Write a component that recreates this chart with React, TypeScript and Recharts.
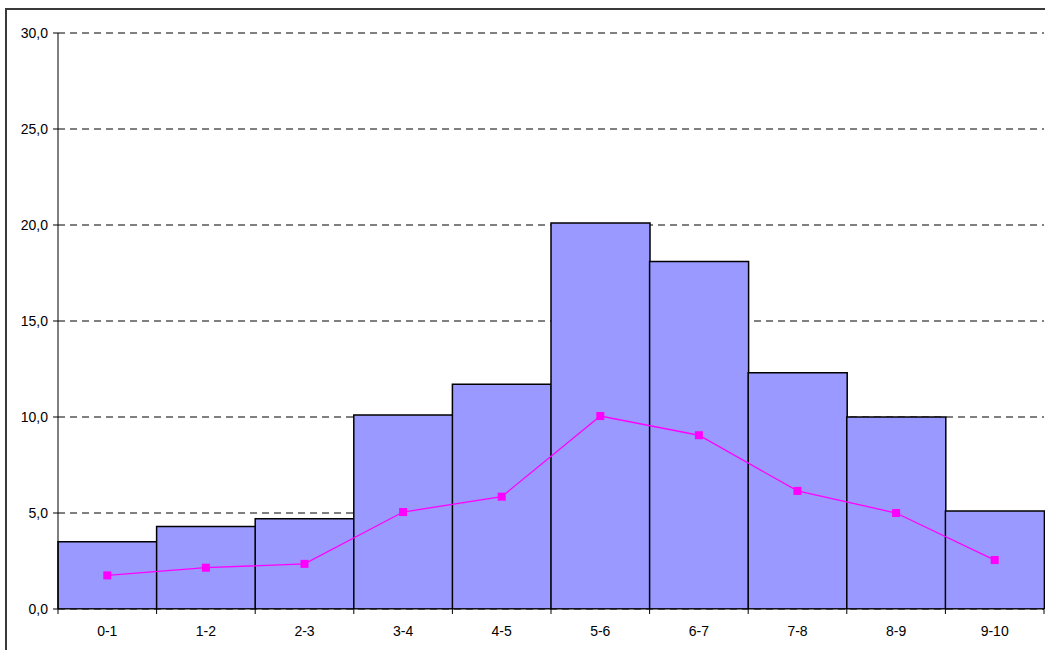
import React from "react";
import { ComposedChart, Bar, Line, XAxis, YAxis, CartesianGrid } from "recharts";

const categories = ["0-1", "1-2", "2-3", "3-4", "4-5", "5-6", "6-7", "7-8", "8-9", "9-10"];
const barValues = [3.5, 4.3, 4.7, 10.1, 11.7, 20.1, 18.1, 12.3, 10.0, 5.1];
const lineValues = [1.75, 2.15, 2.35, 5.05, 5.85, 10.05, 9.05, 6.15, 5.0, 2.55];
const yTicks = [0, 5, 10, 15, 20, 25, 30];

const data = categories.map((c, i) => ({ cat: c, bar: barValues[i], line: lineValues[i] }));

const FONT = "'Liberation Sans', Arial, sans-serif";

const XTick = (props: any) => {
  const { x, y, payload, index } = props;
  const off = payload && payload.offset ? payload.offset : 49.3;
  const last = index === categories.length - 1;
  return (
    <g>
      <line x1={x - off} x2={x - off} y1={y} y2={y + 5} stroke="#000" strokeWidth={1} />
      {last ? <line x1={x + off} x2={x + off} y1={y} y2={y + 5} stroke="#000" strokeWidth={1} /> : null}
      <text x={x} y={y + 27} textAnchor="middle" fontSize={14} fontFamily={FONT} fill="#000">
        {payload.value}
      </text>
    </g>
  );
};

const SquareDot = (props: any) => {
  const { cx, cy } = props;
  if (cx == null || cy == null) return null;
  return <rect x={cx - 4} y={cy - 4} width={8} height={8} fill="#FF00FF" />;
};

export default function App() {
  return (
    <div style={{ position: "absolute", left: 0, top: 0, width: 1045, height: 650, overflow: "hidden", background: "#fff" }}>
      <div
        style={{
          position: "absolute",
          left: 5,
          top: 8,
          width: 1200,
          height: 800,
          border: "2px solid #3a3a3a",
          boxSizing: "border-box",
        }}
      />
      <div style={{ position: "absolute", left: 0, top: 0 }}>
        <ComposedChart
          width={1045}
          height={650}
          data={data}
          margin={{ top: 33, right: 1, bottom: 0, left: 0 }}
          barCategoryGap={0}
          barGap={0}
        >
          <CartesianGrid vertical={false} stroke="#000" strokeDasharray="7 5" />
          <XAxis
            dataKey="cat"
            stroke="#000"
            tickLine={false}
            tickSize={0}
            tickMargin={0}
            tick={<XTick />}
            interval={0}
            height={41}
          />
          <YAxis
            domain={[0, 30]}
            ticks={yTicks}
            width={58}
            stroke="#000"
            tickSize={5}
            tickMargin={5}
            tickFormatter={(v: number) => v.toFixed(1).replace(".", ",")}
            tick={{ fontSize: 14, fontFamily: FONT, fill: "#000" }}
            allowDataOverflow
          />
          <Bar dataKey="bar" fill="#9999FF" stroke="#000" strokeWidth={1.5} isAnimationActive={false} />
          <Line
            dataKey="line"
            stroke="#FF00FF"
            strokeWidth={1.3}
            dot={<SquareDot />}
            activeDot={false}
            isAnimationActive={false}
          />
        </ComposedChart>
      </div>
    </div>
  );
}
